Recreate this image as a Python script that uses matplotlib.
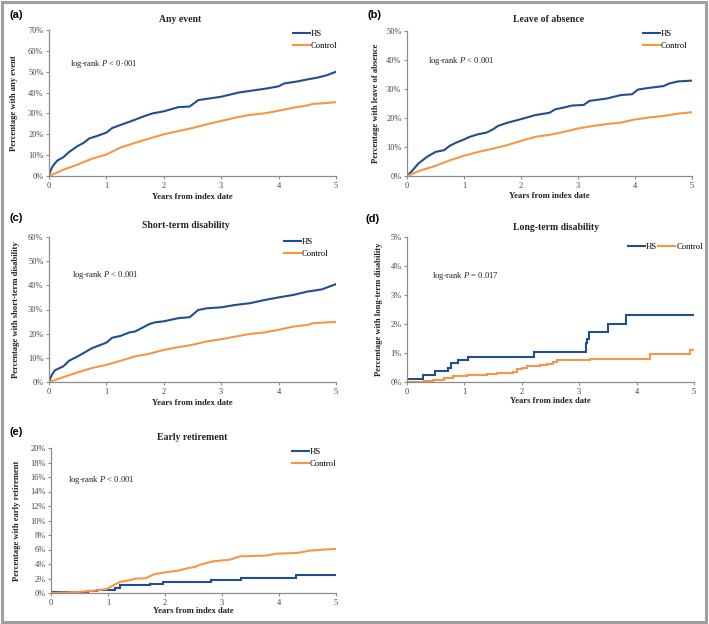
import matplotlib
matplotlib.use("Agg")
import matplotlib.pyplot as plt
from matplotlib.patches import Rectangle
from matplotlib.ticker import FuncFormatter, MultipleLocator

plt.rcParams['font.family'] = ['Liberation Serif', 'DejaVu Serif']
plt.rcParams['mathtext.fontset'] = 'custom'
plt.rcParams['mathtext.rm'] = 'Liberation Serif'
plt.rcParams['mathtext.it'] = 'Liberation Serif:italic'

# ---------------- data ----------------
a_hs_t = [0, 0.02, 0.05, 0.1, 0.15, 0.25, 0.35, 0.5, 0.6, 0.7, 0.85, 1.0, 1.1, 1.25, 1.5, 1.65, 1.8, 2.0, 2.25, 2.45, 2.6, 2.8, 3.0, 3.3, 3.6, 3.8, 4.0, 4.1, 4.3, 4.5, 4.7, 4.85, 5.0]
a_hs_v = [0, 2.0, 4.0, 6.0, 7.5, 9.0, 11.5, 14.4, 15.8, 18.0, 19.3, 20.8, 23.0, 24.5, 27.0, 28.6, 30.0, 31.0, 33.0, 33.3, 36.4, 37.2, 38.0, 40.0, 41.2, 42.0, 43.0, 44.4, 45.2, 46.3, 47.3, 48.4, 50.0]
a_ct_t = [0, 0.25, 0.5, 0.75, 1.0, 1.25, 1.5, 1.75, 2.0, 2.25, 2.5, 2.75, 3.0, 3.25, 3.5, 3.75, 4.0, 4.25, 4.5, 4.6, 4.75, 5.0]
a_ct_v = [0, 3.0, 5.5, 8.3, 10.3, 13.7, 15.9, 18.0, 20.0, 21.5, 23.0, 24.8, 26.4, 28.0, 29.3, 30.0, 31.3, 32.7, 33.8, 34.6, 34.8, 35.4]

b_hs_t = [0, 0.1, 0.2, 0.35, 0.5, 0.65, 0.75, 0.85, 1.0, 1.1, 1.25, 1.4, 1.5, 1.6, 1.75, 2.0, 2.25, 2.5, 2.6, 2.75, 2.9, 3.1, 3.2, 3.5, 3.75, 3.95, 4.05, 4.25, 4.5, 4.6, 4.75, 5.0]
b_hs_v = [0, 2.0, 4.3, 6.6, 8.3, 8.9, 10.4, 11.4, 12.6, 13.5, 14.4, 15.0, 16.0, 17.3, 18.3, 19.6, 21.0, 21.8, 23.0, 23.6, 24.3, 24.5, 25.9, 26.7, 27.9, 28.2, 29.8, 30.4, 31.0, 31.9, 32.6, 32.9]
b_ct_t = [0, 0.25, 0.5, 0.75, 1.0, 1.25, 1.5, 1.75, 2.0, 2.25, 2.5, 2.75, 3.0, 3.25, 3.5, 3.75, 4.0, 4.25, 4.5, 4.75, 5.0]
b_ct_v = [0, 2.0, 3.5, 5.4, 7.0, 8.3, 9.4, 10.6, 12.1, 13.5, 14.2, 15.2, 16.4, 17.2, 17.9, 18.4, 19.5, 20.2, 20.7, 21.5, 22.0]

c_hs_t = [0, 0.05, 0.1, 0.25, 0.35, 0.5, 0.75, 1.0, 1.1, 1.25, 1.4, 1.5, 1.75, 1.85, 2.0, 2.25, 2.45, 2.6, 2.75, 3.0, 3.25, 3.5, 3.75, 4.0, 4.25, 4.5, 4.75, 5.0]
c_hs_v = [0, 3.0, 4.8, 6.5, 8.8, 10.6, 14.0, 16.3, 18.3, 19.1, 20.5, 20.9, 24.0, 24.7, 25.1, 26.4, 26.8, 29.8, 30.5, 30.9, 31.9, 32.6, 33.9, 35.0, 36.0, 37.4, 38.3, 40.5]
c_ct_t = [0, 0.25, 0.5, 0.75, 1.0, 1.25, 1.5, 1.75, 2.0, 2.25, 2.5, 2.75, 3.0, 3.25, 3.5, 3.75, 4.0, 4.25, 4.5, 4.6, 5.0]
c_ct_v = [0, 2.0, 4.0, 5.8, 7.1, 8.8, 10.6, 11.7, 13.3, 14.4, 15.4, 16.8, 17.7, 18.8, 19.9, 20.5, 21.6, 22.9, 23.6, 24.3, 24.9]

d_hs_t = [0, 0.28, 0.49, 0.72, 0.76, 0.88, 1.07, 2.22, 3.11, 3.13, 3.17, 3.51, 3.81, 5.0]
d_hs_v = [0.10, 0.24, 0.38, 0.50, 0.64, 0.75, 0.87, 1.04, 1.33, 1.47, 1.73, 2.0, 2.3, 2.3]
d_ct_t = [0, 0.29, 0.46, 0.64, 0.81, 1.04, 1.39, 1.56, 1.85, 1.91, 2.0, 2.09, 2.32, 2.44, 2.54, 2.62, 3.18, 4.23, 4.93, 5.0]
d_ct_v = [0, 0.03, 0.07, 0.15, 0.2, 0.24, 0.28, 0.31, 0.36, 0.44, 0.49, 0.55, 0.58, 0.62, 0.68, 0.75, 0.81, 0.95, 1.1, 1.1]

e_hs_t = [0, 0.65, 0.8, 1.12, 1.21, 1.74, 1.97, 2.3, 2.8, 3.34, 4.3, 5.0]
e_hs_v = [0.1, 0.3, 0.45, 0.64, 1.06, 1.24, 1.47, 1.52, 1.84, 2.07, 2.45, 2.45]
e_ct_t = [0, 0.48, 0.77, 0.98, 1.06, 1.21, 1.42, 1.47, 1.65, 1.82, 2.0, 2.23, 2.41, 2.53, 2.61, 2.85, 3.14, 3.32, 3.76, 3.96, 4.31, 4.54, 4.78, 5.0]
e_ct_v = [0, 0.14, 0.32, 0.55, 0.92, 1.52, 1.84, 1.98, 2.02, 2.6, 2.85, 3.08, 3.45, 3.6, 3.9, 4.37, 4.6, 5.06, 5.15, 5.43, 5.52, 5.84, 5.98, 6.07]

series_labels = ['HS', 'Control']
x_ticks = [0, 1, 2, 3, 4, 5]

HS_COL = '#234e8e'
CT_COL = '#f79646'
GRID_COL = '#8c8c8c'

W, H = 709, 624
fig = plt.figure(figsize=(W / 100, H / 100), dpi=100)


def fx(px):
    return px / W


def fy(py):
    return 1 - py / H


def make_ax(l, r, t, b):
    return fig.add_axes([fx(l), fy(b), fx(r - l), (b - t) / H])


panels = [
    dict(box=(49, 336, 30, 176), ymax=70, ystep=10, title='Any event', tx=180, ty=19,
         ylabel='Percentage with any event', ylx=14, xly=197,
         p='log-rank $P$ < 0·001', ptx=70, pty=64, lab='(a)', labx=10, laby=15,
         hs=(a_hs_t, a_hs_v, False), ct=(a_ct_t, a_ct_v, False),
         leg=(293, 30, 1)),
    dict(box=(407, 692, 31, 176), ymax=50, ystep=10, title='Leave of absence', tx=549, ty=20,
         ylabel='Percentage with leave of absence', ylx=376, xly=196,
         p='log-rank $P$ < 0.001', ptx=428, pty=61, lab='(b)', labx=367, laby=15,
         hs=(b_hs_t, b_hs_v, False), ct=(b_ct_t, b_ct_v, False),
         leg=(643, 30, 1)),
    dict(box=(49, 336, 237, 382), ymax=60, ystep=10, title='Short-term disability', tx=186, ty=226,
         ylabel='Percentage with short-term disability', ylx=16, xly=403,
         p='log-rank $P$ < 0.001', ptx=72, pty=275, lab='(c)', labx=10, laby=218,
         hs=(c_hs_t, c_hs_v, False), ct=(c_ct_t, c_ct_v, False),
         leg=(284, 238, 1)),
    dict(box=(407, 694, 237, 382), ymax=5, ystep=1, title='Long-term disability', tx=556, ty=227,
         ylabel='Percentage with long-term disability', ylx=379, xly=401,
         p='log-rank $P$ = 0.017', ptx=432, pty=276, lab='(d)', labx=366, laby=219,
         hs=(d_hs_t, d_hs_v, True), ct=(d_ct_t, d_ct_v, True),
         leg=(628, 243, 2)),
    dict(box=(51, 336, 448, 593), ymax=20, ystep=2, title='Early retirement', tx=192, ty=438,
         ylabel='Percentage with early retirement', ylx=17, xly=611,
         p='log-rank $P$ < 0.001', ptx=68, pty=480, lab='(e)', labx=10, laby=432,
         hs=(e_hs_t, e_hs_v, True), ct=(e_ct_t, e_ct_v, False),
         leg=(292, 448, 1)),
]

pct = FuncFormatter(lambda v, pos: f'{v:.0f}%')

for P in panels:
    l, r, t, b = P['box']
    ax = make_ax(l, r, t, b)
    for (tt, vv, step), col, lab in ((P['hs'], HS_COL, series_labels[0]), (P['ct'], CT_COL, series_labels[1])):
        ax.plot(tt, vv, color=col, lw=1.5, label=lab,
                drawstyle='steps-post' if step else 'default', solid_joinstyle='miter')
    ax.set_xlim(0, 5)
    ax.set_ylim(0, P['ymax'])
    ax.set_xticks(x_ticks)
    ax.yaxis.set_major_locator(MultipleLocator(P['ystep']))
    ax.yaxis.set_major_formatter(pct)
    for s in ('top', 'right'):
        ax.spines[s].set_visible(False)
    for s in ('left', 'bottom'):
        ax.spines[s].set_color(GRID_COL)
        ax.spines[s].set_linewidth(0.9)
    ax.tick_params(axis='both', labelsize=6, colors='#444444', length=2.5, width=0.8,
                   pad=1.5, direction='out')
    ax.tick_params(axis='both', color=GRID_COL)
    # labels
    fig.text(fx(P['tx']), fy(P['ty']), P['title'], ha='center', va='center',
             fontsize=7, fontweight='bold', color='#222222')
    fig.text(fx(P['ylx']), fy((t + b) / 2), P['ylabel'], ha='center', va='center',
             rotation=90, fontsize=6.2, fontweight='bold', color='#222222')
    fig.text(fx((l + r) / 2), fy(P['xly']), 'Years from index date', ha='center', va='center',
             fontsize=6.2, fontweight='bold', color='#222222')
    fig.text(fx(P['ptx']), fy(P['pty']), P['p'], ha='left', va='center',
             fontsize=6.2, color='#222222')
    fig.text(fx(P['labx']), fy(P['laby']), P['lab'], ha='left', va='center',
             fontsize=8, fontweight='bold', family=['Liberation Sans', 'DejaVu Sans'])
    lx, ly, nc = P['leg']
    ax.legend(loc='upper left', bbox_to_anchor=(fx(lx), fy(ly)), bbox_transform=fig.transFigure,
              frameon=False, fontsize=6.2, ncol=nc, borderpad=0, borderaxespad=0,
              handlelength=2.0, handletextpad=0.1, labelspacing=0.45, columnspacing=0.1)

# outer frame
fig.patches.append(Rectangle((fx(1.5), fy(622)), fx(704.5), (620.5) / H,
                             transform=fig.transFigure, fill=False,
                             edgecolor='#a0a0a0', linewidth=2.2))

fig.savefig('out.png', dpi=100)
